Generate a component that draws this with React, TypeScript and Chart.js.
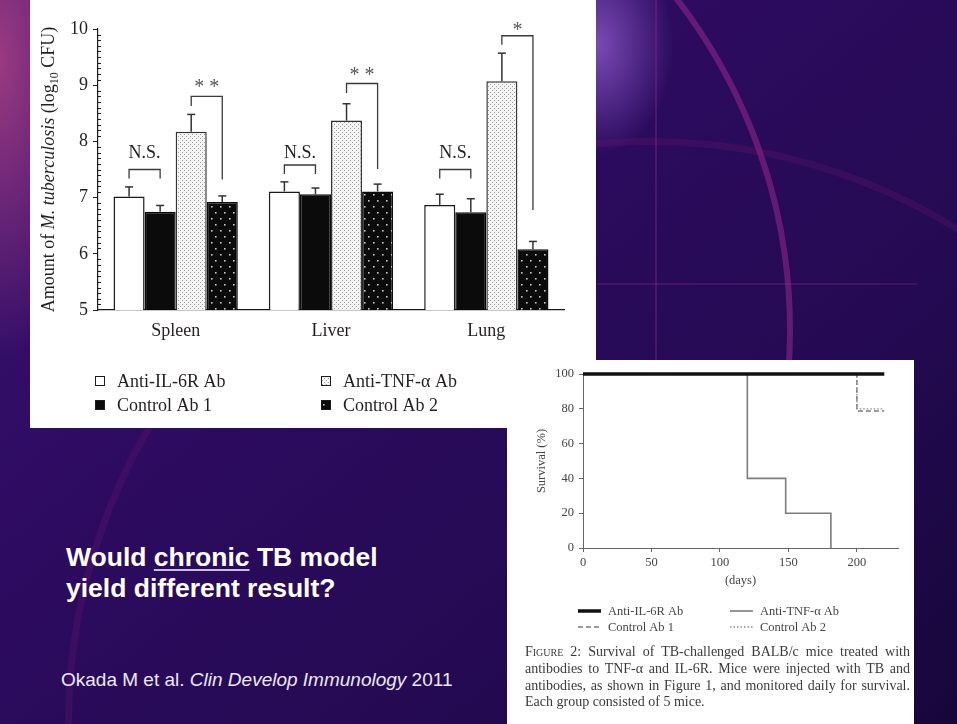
import React, { useEffect, useRef } from "react";
import { Chart, registerables } from "chart.js";
Chart.register(...registerables);

// ---------- Figure 1 : bacterial load ----------
const organs = ["Spleen", "Liver", "Lung"];
const groups = ["Anti-IL-6R Ab", "Control Ab 1", "Anti-TNF-α Ab", "Control Ab 2"];
const antiIL6R = [7.02, 7.11, 6.87];
const controlAb1 = [6.75, 7.06, 6.74];
const antiTNF = [8.17, 8.37, 9.07];
const controlAb2 = [6.92, 7.11, 6.08];
const errAntiIL6R = [0.17, 0.17, 0.19];
const errControlAb1 = [0.11, 0.11, 0.24];
const errAntiTNF = [0.31, 0.3, 0.5];
const errControlAb2 = [0.11, 0.13, 0.14];
const cfuTicks = [5, 6, 7, 8, 9, 10];

const nsLabel = ["N.S.", "N.S.", "N.S."];
const nsBracketTop = [7.5, 7.58, 7.5];
const nsBracketLeg = [7.34, 7.42, 7.34];
const nsLabelAt = [7.79, 7.79, 7.79];
const sigLabel = ["**", "**", "*"];
const sigBracketTop = [8.8, 9.03, 9.88];
const sigLegLeft = [8.63, 8.86, 9.72];
const sigLegRight = [7.32, 7.51, 6.78];
const sigLabelAt = [9.0, 9.23, 10.03];

// ---------- Figure 2 : survival ----------
const dayTicks = [0, 50, 100, 150, 200];
const survivalTicks = [0, 20, 40, 60, 80, 100];
const il6rDays = [0, 220];
const il6rSurvival = [100, 100];
const tnfDays = [0, 120, 148, 181];
const tnfSurvival = [100, 40, 20, 0];
const ctrl1Days = [0, 200, 220];
const ctrl1Survival = [100, 78.7, 78.7];
const ctrl2Days = [0, 200, 220];
const ctrl2Survival = [100, 80, 80];
const survivalGroups = ["Anti-IL-6R Ab", "Anti-TNF-α Ab", "Control Ab 1", "Control Ab 2"];

const captionLines = [
  "Survival of TB-challenged BALB/c mice treated with",
  "antibodies to TNF-α and IL-6R. Mice were injected with TB and",
  "antibodies, as shown in Figure 1, and monitored daily for survival.",
  "Each group consisted of 5 mice.",
];

const SERIF = '"Liberation Serif", "DejaVu Serif", serif';
const SANS = '"Liberation Sans", Arial, sans-serif';
const INK = "#231f20";

function tile(ctx: CanvasRenderingContext2D, w: number, h: number, bg: string, fg: string, dots: number[][], size: number) {
  const c = document.createElement("canvas");
  c.width = w;
  c.height = h;
  const g = c.getContext("2d")!;
  g.fillStyle = bg;
  g.fillRect(0, 0, w, h);
  g.fillStyle = fg;
  dots.forEach(([x, y]) => g.fillRect(x, y, size, size));
  return ctx.createPattern(c, "repeat")!;
}

const barExtras = {
  id: "barExtras",
  afterDatasetsDraw(chart: any) {
    const { ctx, chartArea, scales } = chart;
    const y = scales.y;
    const vals = [antiIL6R, controlAb1, antiTNF, controlAb2];
    const errs = [errAntiIL6R, errControlAb1, errAntiTNF, errControlAb2];
    const metas = [0, 1, 2, 3].map((i) => chart.getDatasetMeta(i));
    const line = (x1: number, y1: number, x2: number, y2: number) => {
      ctx.beginPath();
      ctx.moveTo(x1, y1);
      ctx.lineTo(x2, y2);
      ctx.stroke();
    };
    ctx.save();
    // error bars
    ctx.strokeStyle = "#333";
    ctx.lineWidth = 1.5;
    metas.forEach((m: any, i: number) =>
      m.data.forEach((bar: any, j: number) => {
        const y0 = y.getPixelForValue(vals[i][j]);
        const y1 = y.getPixelForValue(vals[i][j] + errs[i][j]);
        line(bar.x, y0, bar.x, y1);
        line(bar.x - 4, y1, bar.x + 4, y1);
      })
    );
    // significance brackets
    ctx.lineWidth = 1.3;
    ctx.strokeStyle = "#3a3a3a";
    ctx.textAlign = "center";
    ctx.textBaseline = "middle";
    organs.forEach((_, j) => {
      const a = metas[0].data[j].x, b = metas[1].data[j].x;
      const top = y.getPixelForValue(nsBracketTop[j]);
      const leg = y.getPixelForValue(nsBracketLeg[j]);
      ctx.beginPath();
      ctx.moveTo(a, leg); ctx.lineTo(a, top); ctx.lineTo(b, top); ctx.lineTo(b, leg);
      ctx.stroke();
      ctx.fillStyle = INK;
      ctx.font = `18px ${SERIF}`;
      ctx.fillText(nsLabel[j], (a + b) / 2, y.getPixelForValue(nsLabelAt[j]));
      const c = metas[2].data[j].x, d = metas[3].data[j].x;
      const t2 = y.getPixelForValue(sigBracketTop[j]);
      ctx.beginPath();
      ctx.moveTo(c, y.getPixelForValue(sigLegLeft[j])); ctx.lineTo(c, t2);
      ctx.lineTo(d, t2); ctx.lineTo(d, y.getPixelForValue(sigLegRight[j]));
      ctx.stroke();
      ctx.fillStyle = "#555";
      ctx.font = `20px ${SERIF}`;
      ctx.fillText(sigLabel[j].split("").join(" "), (c + d) / 2, y.getPixelForValue(sigLabelAt[j]) + 3);
    });
    // minor ticks on y axis (inside)
    ctx.strokeStyle = "#1a1a1a";
    ctx.lineWidth = 1;
    for (let k = cfuTicks[0] * 10 + 1; k < cfuTicks[cfuTicks.length - 1] * 10; k++) {
      if (k % 10 === 0) continue;
      const py = Math.round(y.getPixelForValue(k / 10)) + 0.5;
      line(chartArea.left, py, chartArea.left + 3, py);
    }
    // y-axis title with mixed fonts
    const segs = [
      { t: "Amount of ", f: `18px ${SERIF}`, dy: 0 },
      { t: "M. tuberculosis", f: `italic 18px ${SERIF}`, dy: 0 },
      { t: " (log", f: `18px ${SERIF}`, dy: 0 },
      { t: "10", f: `12px ${SERIF}`, dy: 4 },
      { t: " CFU)", f: `18px ${SERIF}`, dy: 0 },
    ];
    let total = 0;
    segs.forEach((s) => { ctx.font = s.f; total += ctx.measureText(s.t).width; });
    ctx.translate(chartArea.left - 50, (chartArea.top + chartArea.bottom) / 2);
    ctx.rotate(-Math.PI / 2);
    ctx.textAlign = "left";
    ctx.textBaseline = "alphabetic";
    ctx.fillStyle = INK;
    let x = -total / 2;
    segs.forEach((s) => {
      ctx.font = s.f;
      ctx.fillText(s.t, x, 6 + s.dy);
      x += ctx.measureText(s.t).width;
    });
    ctx.setTransform(1, 0, 0, 1, 0, 0);
    // legend (2 x 2)
    const order = [0, 2, 1, 3];
    order.forEach((di, k) => {
      const col = k % 2, row = Math.floor(k / 2);
      const bx = chartArea.left - 3 + col * 226;
      const by = chartArea.bottom + 71 + row * 24;
      const ds = chart.data.datasets[di];
      ctx.fillStyle = ds.backgroundColor;
      ctx.fillRect(bx, by - 5, 10, 10);
      ctx.strokeStyle = "#1a1a1a";
      ctx.lineWidth = 1;
      ctx.strokeRect(bx + 0.5, by - 4.5, 9, 9);
      ctx.fillStyle = INK;
      ctx.font = `18px ${SERIF}`;
      ctx.textBaseline = "middle";
      ctx.fillText(ds.label, bx + 22, by + 1);
    });
    ctx.restore();
  },
};

const survivalExtras = {
  id: "survivalExtras",
  afterDraw(chart: any) {
    const { ctx, chartArea } = chart;
    ctx.save();
    ctx.fillStyle = "#444";
    ctx.font = `12.5px ${SERIF}`;
    ctx.textAlign = "center";
    ctx.textBaseline = "middle";
    ctx.fillText("(days)", (chartArea.left + chartArea.right) / 2, chartArea.bottom + 33);
    ctx.translate(chartArea.left - 41, (chartArea.top + chartArea.bottom) / 2);
    ctx.rotate(-Math.PI / 2);
    ctx.fillText("Survival (%)", 0, 0);
    ctx.setTransform(1, 0, 0, 1, 0, 0);
    ctx.textAlign = "left";
    survivalGroups.forEach((name, k) => {
      const col = k % 2, row = Math.floor(k / 2);
      const ds = chart.data.datasets.find((d: any) => d.label === name);
      const lx = chartArea.left - 5 + col * 152;
      const ly = chartArea.bottom + 63 + row * 16;
      ctx.strokeStyle = ds.borderColor;
      ctx.lineWidth = ds.borderWidth;
      ctx.setLineDash(ds.borderDash || []);
      ctx.beginPath();
      ctx.moveTo(lx, ly);
      ctx.lineTo(lx + 23, ly);
      ctx.stroke();
      ctx.setLineDash([]);
      ctx.fillStyle = "#444";
      ctx.fillText(name, lx + 30, ly + 0.5);
    });
    ctx.restore();
  },
};

function BarFigure() {
  const ref = useRef<HTMLCanvasElement>(null);
  useEffect(() => {
    const canvas = ref.current!;
    const cx = canvas.getContext("2d")!;
    const tnfPat = tile(cx, 4, 4, "#f4f4f4", "#9c9c9c", [[0, 0], [2, 2]], 1);
    const c2Pat = tile(cx, 9, 12, "#0b0b0b", "#c8c8c8", [[1, 2], [5, 8]], 1.6);
    const chart = new Chart(canvas, {
      type: "bar",
      data: {
        labels: organs,
        datasets: [
          { label: groups[0], data: antiIL6R, backgroundColor: "#ffffff", borderColor: "#1a1a1a", borderWidth: 1.5 },
          { label: groups[1], data: controlAb1, backgroundColor: "#0b0b0b", borderColor: "#0b0b0b", borderWidth: 1.5 },
          { label: groups[2], data: antiTNF, backgroundColor: tnfPat as any, borderColor: "#333", borderWidth: 1.5 },
          { label: groups[3], data: controlAb2, backgroundColor: c2Pat as any, borderColor: "#0b0b0b", borderWidth: 1.5 },
        ],
      },
      options: {
        responsive: false,
        animation: false,
        devicePixelRatio: 1,
        layout: { padding: { left: 0, right: 32, top: 29, bottom: 0 } },
        datasets: { bar: { categoryPercentage: 0.8, barPercentage: 1, borderSkipped: "bottom" } } as any,
        plugins: { legend: { display: false }, tooltip: { enabled: false } },
        scales: {
          x: {
            grid: { display: false, drawTicks: false },
            border: { display: true, color: "#1a1a1a", width: 1.2 },
            ticks: { color: INK, font: { family: SERIF, size: 18 }, padding: 10 },
            afterFit: (s: any) => { s.height = 118; },
          },
          y: {
            min: cfuTicks[0],
            max: cfuTicks[cfuTicks.length - 1],
            afterBuildTicks: (s: any) => { s.ticks = cfuTicks.map((v) => ({ value: v })); },
            grid: { drawOnChartArea: false, drawTicks: true, tickLength: 5, color: "#1a1a1a" },
            border: { display: true, color: "#1a1a1a", width: 1.2 },
            ticks: { color: INK, font: { family: SERIF, size: 18 }, padding: 5 },
            afterFit: (s: any) => { s.width = 68; },
          },
        },
      },
      plugins: [barExtras],
    });
    return () => chart.destroy();
  }, []);
  return <canvas ref={ref} width={566} height={428} style={{ display: "block" }} />;
}

function SurvivalFigure() {
  const ref = useRef<HTMLCanvasElement>(null);
  useEffect(() => {
    const pts = (xs: number[], ys: number[]) => xs.map((x, i) => ({ x, y: ys[i] }));
    const step = "before" as const;
    const chart = new Chart(ref.current!, {
      type: "line",
      data: {
        datasets: [
          { label: survivalGroups[0], data: pts(il6rDays, il6rSurvival), borderColor: "#111", borderWidth: 3.5, stepped: step, pointRadius: 0, clip: false as any },
          { label: survivalGroups[1], data: pts(tnfDays, tnfSurvival), borderColor: "#7c7c7c", borderWidth: 1.6, stepped: step, pointRadius: 0, clip: false as any },
          { label: survivalGroups[2], data: pts(ctrl1Days, ctrl1Survival), borderColor: "#7c7c7c", borderWidth: 1.4, borderDash: [5, 3], stepped: step, pointRadius: 0, clip: false as any },
          { label: survivalGroups[3], data: pts(ctrl2Days, ctrl2Survival), borderColor: "#8a8a8a", borderWidth: 1.3, borderDash: [1.5, 2], stepped: step, pointRadius: 0, clip: false as any },
        ],
      },
      options: {
        responsive: false,
        animation: false,
        devicePixelRatio: 1,
        layout: { padding: { left: 0, right: 16, top: 14, bottom: 0 } },
        plugins: { legend: { display: false }, tooltip: { enabled: false } },
        scales: {
          x: {
            type: "linear",
            min: 0,
            max: 230,
            afterBuildTicks: (s: any) => { s.ticks = dayTicks.map((v) => ({ value: v })); },
            grid: { drawOnChartArea: false, drawTicks: true, tickLength: 4, color: "#666" },
            border: { display: true, color: "#666", width: 1 },
            ticks: { color: "#444", font: { family: SERIF, size: 12.5 }, padding: 3, maxRotation: 0 },
            afterFit: (s: any) => { s.height = 176; },
          },
          y: {
            min: 0,
            max: 100,
            afterBuildTicks: (s: any) => { s.ticks = survivalTicks.map((v) => ({ value: v })); },
            grid: { drawOnChartArea: false, drawTicks: true, tickLength: 4, color: "#666" },
            border: { display: true, color: "#666", width: 1 },
            ticks: { color: "#444", font: { family: SERIF, size: 12.5 }, padding: 5 },
            afterFit: (s: any) => { s.width = 76; },
          },
        },
      },
      plugins: [survivalExtras],
    });
    return () => chart.destroy();
  }, []);
  return <canvas ref={ref} width={407} height={364} style={{ display: "block" }} />;
}

const arc = (left: number, top: number, size: number, width: number, color: string): React.CSSProperties => ({
  position: "absolute", left, top, width: size, height: size, borderRadius: "50%",
  border: `${width}px solid ${color}`, boxSizing: "border-box",
});

export default function App() {
  return (
    <div style={{ position: "fixed", left: 0, top: 0, width: 957, height: 724, overflow: "hidden",
      background:
        "radial-gradient(ellipse 75px 110px at 598px 45px, rgba(130,80,190,0.9), rgba(130,80,190,0) 100%)," +
        "radial-gradient(ellipse 110px 300px at 0px 60px, rgba(160,60,130,0.95), rgba(160,60,130,0) 100%)," +
        "linear-gradient(140deg, #3b1272 0%, #2c0b5f 40%, #240a52 70%, #17063a 100%)" }}>
      {/* decorative arcs of the slide template */}
      <div style={arc(-293, -213, 1086, 6, "rgba(150,40,140,0.55)")} />
      <div style={arc(65, 138, 1170, 7, "rgba(140,30,120,0.18)")} />
      <div style={{ position: "absolute", left: 655, top: 0, width: 2, height: 360, background: "rgba(140,40,140,0.35)" }} />
      <div style={{ position: "absolute", left: 597, top: 283, width: 320, height: 2, background: "rgba(140,40,140,0.3)" }} />

      <div style={{ position: "absolute", left: 30, top: 0, width: 566, height: 428, background: "#fff" }}>
        <BarFigure />
      </div>

      <div style={{ position: "absolute", left: 507, top: 360, width: 407, height: 364, background: "#fff" }}>
        <SurvivalFigure />
        <div style={{ position: "absolute", left: 18, top: 284, width: 385, fontFamily: SERIF, fontSize: 14, lineHeight: "16.8px", color: "#3a3a3a" }}>
          {captionLines.map((t, i) => (
            <div key={i} style={{ textAlign: "justify", textAlignLast: i < captionLines.length - 1 ? "justify" : "left" }}>
              {i === 0 ? <span style={{ fontVariant: "small-caps" }}>Figure</span> : null}
              {i === 0 ? " 2: " : ""}
              {t}
            </div>
          ))}
        </div>
      </div>

      <div style={{ position: "absolute", left: 66, top: 542, fontFamily: SANS, fontWeight: 700, fontSize: 26.5, lineHeight: "31px", color: "#fff" }}>
        <div>Would <span style={{ textDecoration: "underline", textDecorationColor: "#c9bbe2", textDecorationThickness: 2, textUnderlineOffset: 3 }}>chronic</span> TB model</div>
        <div>yield different result?</div>
      </div>

      <div style={{ position: "absolute", left: 61, top: 669, fontFamily: SANS, fontSize: 19, lineHeight: "22px", color: "#ece8f4", whiteSpace: "nowrap" }}>
        Okada M et al. <i>Clin Develop Immunology</i> 2011
      </div>
    </div>
  );
}
